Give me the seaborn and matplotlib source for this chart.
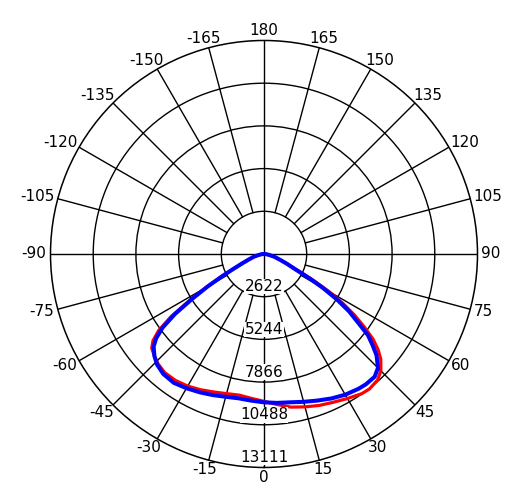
import matplotlib
matplotlib.use('Agg')
import matplotlib.pyplot as plt
import numpy as np
import pandas as pd
import seaborn as sns

# intensity (cd), angle in degrees (0 = straight down)
angles = [-90, -85, -80, -75, -70, -67, -64, -62, -60, -58, -56, -54, -52, -50,
          -47, -44, -40, -35, -30, -25, -20, -15, -10, -5, 0, 5, 10, 15, 20,
          25, 30, 35, 38, 42, 45, 48, 50, 52, 54, 56, 58, 60, 62, 64, 67, 70,
          75, 80, 85, 90]
red_cd = [0, 120, 300, 640, 1000, 1400, 2100, 2950, 4100, 5400, 6900, 8000,
          8650, 9000, 9200, 9370, 9500, 9480, 9370, 9200, 9020, 8880, 8800,
          8900, 9050, 9280, 9550, 9720, 9900, 10050, 10250, 10470, 10520,
          10420, 10150, 9650, 9150, 8500, 7600, 6700, 5700, 4600, 3400, 2300,
          1550, 1080, 660, 300, 120, 0]
blue_cd = [0, 120, 300, 640, 1000, 1400, 2100, 2900, 4000, 5200, 6600, 7700,
           8400, 8850, 9200, 9450, 9620, 9660, 9520, 9370, 9220, 9080, 9000,
           9040, 9110, 9180, 9250, 9400, 9580, 9790, 9980, 10110, 10160,
           10150, 9900, 9300, 8700, 8100, 7100, 6300, 5300, 4200, 3100, 2100,
           1500, 1050, 650, 300, 120, 0]

ring_values = [2622, 5244, 7866, 10488, 13111]
tick_angles = list(range(-165, 181, 15))
r_max = ring_values[-1]

df = pd.DataFrame({
    'theta': np.radians(angles * 2),
    'cd': red_cd + blue_cd,
    'curve': ['red'] * len(angles) + ['blue'] * len(angles),
})

sns.set_style('white')
plt.rcParams['font.family'] = ['DejaVu Sans']

fig = plt.figure(figsize=(5.18, 4.96), dpi=100)
ax = fig.add_axes([0.0975, 0.0575, 0.8243, 0.8609], projection='polar')
ax.set_theta_zero_location('S')
ax.set_theta_direction(1)
ax.set_ylim(0, r_max)

# rings
ax.set_yticks(ring_values[:-1])
ax.set_yticklabels([])
ax.set_xticks([])
ax.yaxis.grid(True, color='black', lw=1.0)
ax.spines['polar'].set_color('black')
ax.spines['polar'].set_linewidth(1.1)

# spokes
for deg in tick_angles:
    start = 0 if deg % 90 == 0 else ring_values[0]
    ax.plot([np.radians(deg)] * 2, [start, r_max], color='black', lw=1.0, zorder=1)

sns.lineplot(data=df, x='theta', y='cd', hue='curve', sort=False,
             palette={'red': '#ff0000', 'blue': '#0000ff'},
             size='curve', sizes={'red': 2.3, 'blue': 2.9},
             legend=False, ax=ax, zorder=3)
ax.set_xlabel('')
ax.set_ylabel('')


def label_offset(deg, text, gap=4, digit_w=9.6, h=12):
    a = np.radians(deg)
    ux, uy = np.sin(a), -np.cos(a)
    w = sum(6 if c == '-' else digit_w for c in text)
    return ux * gap + ux * w / 2, uy * gap + uy * h / 2


for deg in tick_angles:
    text = str(deg)
    dx, dy = label_offset(deg, text)
    ax.annotate(text, xy=(np.radians(deg), r_max), xytext=(dx, dy),
                textcoords='offset pixels', ha='center', va='center',
                fontsize=11, color='black', annotation_clip=False)

for r in ring_values:
    ax.annotate(str(r), xy=(0, r), xytext=(0, 10), textcoords='offset pixels',
                ha='center', va='center', fontsize=11, color='black', zorder=5,
                bbox=dict(facecolor='white', edgecolor='none', pad=0.2))

fig.savefig('out.png', dpi=100)
